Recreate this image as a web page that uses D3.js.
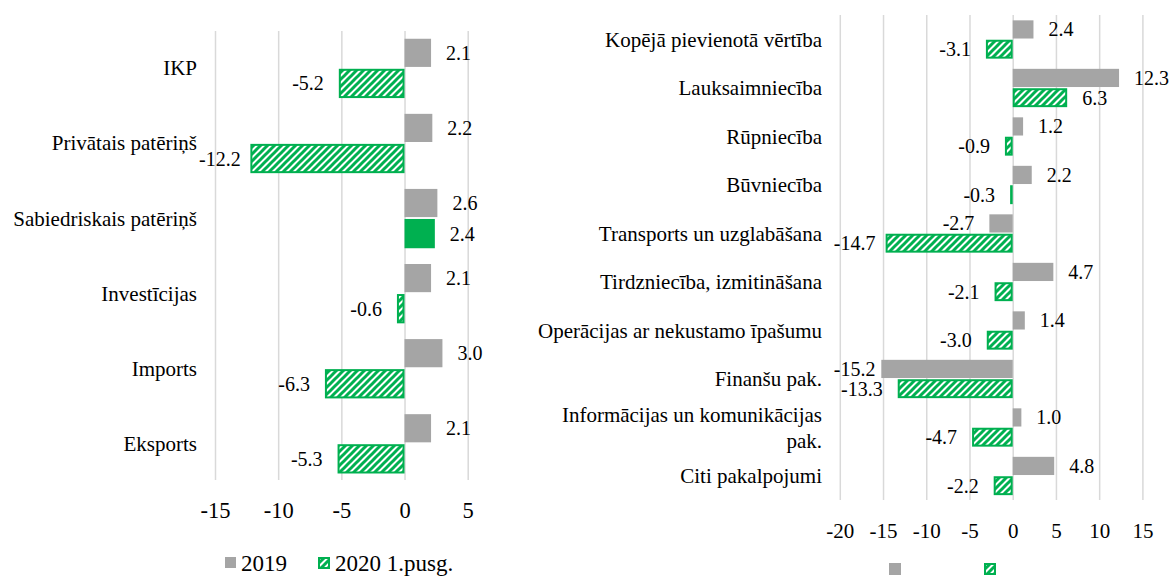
<!DOCTYPE html>
<html>
<head>
<meta charset="utf-8">
<script src="https://cdn.jsdelivr.net/npm/d3@7"></script>
<style>
  html, body { margin: 0; padding: 0; background: #fff; }
  svg text { font-family: "Liberation Serif", "Times New Roman", serif !important; fill: #000; }
</style>
</head>
<body>
<svg id="chart" width="1171" height="577" font-family="Liberation Serif, serif"></svg>
<script>
// ---------- data ----------
const seriesNames = ["2019", "2020 1.pusg."];

const leftCategories = ["IKP", "Privātais patēriņš", "Sabiedriskais patēriņš", "Investīcijas", "Imports", "Eksports"];
const left2019 = [2.1, 2.2, 2.6, 2.1, 3.0, 2.1];
const left2020 = [-5.2, -12.2, 2.4, -0.6, -6.3, -5.3];
const leftTicks = [-15, -10, -5, 0, 5];

const rightCategories = ["Kopējā pievienotā vērtība", "Lauksaimniecība", "Rūpniecība", "Būvniecība",
  "Transports un uzglabāšana", "Tirdzniecība, izmitināšana", "Operācijas ar nekustamo īpašumu",
  "Finanšu pak.", "Informācijas un komunikācijas pak.", "Citi pakalpojumi"];
const right2019 = [2.4, 12.3, 1.2, 2.2, -2.7, 4.7, 1.4, -15.2, 1.0, 4.8];
const right2020 = [-3.1, 6.3, -0.9, -0.3, -14.7, -2.1, -3.0, -13.3, -4.7, -2.2];
const rightTicks = [-20, -15, -10, -5, 0, 5, 10, 15];

// ---------- styling ----------
const FONT = "'Liberation Serif', 'Times New Roman', serif";
const GRAY = "#A5A5A5";
const GREEN = "#00B050";
const GRID = "#D9D9D9";
const solidGreenCategories = new Set(["Sabiedriskais patēriņš"]);

const svg = d3.select("#chart");
const defs = svg.append("defs");
const pat = defs.append("pattern")
  .attr("id", "hatch").attr("patternUnits", "userSpaceOnUse")
  .attr("width", 7).attr("height", 7);
pat.append("rect").attr("width", 7).attr("height", 7).attr("fill", "#fff");
pat.append("path")
  .attr("d", "M-1.75,1.75 L1.75,-1.75 M0,7 L7,0 M5.25,8.75 L8.75,5.25")
  .attr("stroke", GREEN).attr("stroke-width", 3).attr("stroke-linecap", "square");

function txt(sel, size) {
  return sel.attr("font-family", FONT).style("font-family", FONT).style("font-size", size + "px").attr("fill", "#000");
}

function drawPanel(cfg) {
  const g = svg.append("g");
  const x = d3.scaleLinear().domain(cfg.domain).range(cfg.xRange);
  const y = d3.scaleBand().domain(cfg.categories).range(cfg.yRange).paddingInner(0).paddingOuter(0);
  const bw = y.bandwidth();

  // grid
  const grid = g.append("g").attr("transform", `translate(0,${cfg.gridBottom})`)
    .call(d3.axisBottom(x).tickValues(cfg.ticks).tickSize(-(cfg.gridBottom - cfg.gridTop)).tickFormat(""));
  grid.select(".domain").remove();
  grid.selectAll(".tick line").attr("stroke", GRID).attr("stroke-width", 1.5);

  // tick labels
  const ax = g.append("g").attr("transform", `translate(0,${cfg.tickY})`)
    .call(d3.axisBottom(x).tickValues(cfg.ticks).tickSize(0).tickPadding(0).tickFormat(d => String(d)));
  ax.attr("font-family", FONT);
  ax.select(".domain").remove();
  txt(ax.selectAll("text").attr("y", 0).attr("dy", "0.35em"), cfg.tickFont);

  // category labels (with wrapping)
  cfg.categories.forEach((c, i) => {
    const cy = y(c) + bw / 2;
    const t = txt(g.append("text").attr("text-anchor", "end").attr("x", cfg.labelRight), cfg.catFont);
    const words = c.split(" ");
    let lines = [];
    let cur = [];
    const probe = txt(g.append("text"), cfg.catFont);
    words.forEach(w => {
      const test = cur.concat([w]).join(" ");
      probe.text(test);
      if (probe.node().getComputedTextLength() > cfg.wrapWidth && cur.length) {
        lines.push(cur.join(" "));
        cur = [w];
      } else cur.push(w);
    });
    lines.push(cur.join(" "));
    probe.remove();
    const lh = cfg.catFont * 1.24;
    lines.forEach((ln, k) => {
      t.append("tspan").attr("x", cfg.labelRight)
        .attr("y", cy + (k - (lines.length - 1) / 2) * lh)
        .attr("dy", "0.35em").text(ln);
    });
  });

  // bars
  const series = [
    { vals: cfg.s2019, off: 0.11, h: 0.375 },
    { vals: cfg.s2020, off: 0.51, h: 0.39 }
  ];
  series.forEach((s, si) => {
    cfg.categories.forEach((c, i) => {
      const v = s.vals[i];
      const x0 = x(Math.min(0, v)), x1 = x(Math.max(0, v));
      const by = y(c) + s.off * bw, bh = s.h * bw;
      if (si === 0) {
        g.append("rect").attr("x", x0).attr("y", by).attr("width", x1 - x0).attr("height", bh).attr("fill", GRAY);
      } else if (cfg.solid.has(c)) {
        g.append("rect").attr("x", x0).attr("y", by).attr("width", x1 - x0).attr("height", bh).attr("fill", GREEN);
      } else {
        g.append("rect").attr("x", x0 + 1).attr("y", by + 1)
          .attr("width", Math.max(0, x1 - x0 - 2)).attr("height", bh - 2)
          .attr("fill", "url(#hatch)").attr("stroke", GREEN).attr("stroke-width", 2);
      }
      // value label
      const lbl = txt(g.append("text"), cfg.valFont)
        .attr("y", by + bh / 2).attr("dy", "0.35em").text(v.toFixed(1));
      const w = lbl.node().getComputedTextLength();
      if (v >= 0) {
        lbl.attr("text-anchor", "start").attr("x", x(v) + cfg.gap);
      } else {
        let right = x(v) - cfg.gap;
        const minLeft = x(cfg.domain[0]) - cfg.clamp;
        if (right - w < minLeft) right = minLeft + w;
        lbl.attr("text-anchor", "end").attr("x", right);
      }
    });
  });

  // legend
  const lg = g.append("g");
  cfg.legend.forEach((L, i) => {
    if (i === 0) {
      lg.append("rect").attr("x", L.x).attr("y", L.y).attr("width", L.s).attr("height", L.s).attr("fill", GRAY);
    } else {
      lg.append("rect").attr("x", L.x + 1).attr("y", L.y + 1).attr("width", L.s - 2).attr("height", L.s - 2)
        .attr("fill", "url(#hatch)").attr("stroke", GREEN).attr("stroke-width", 2);
    }
    if (cfg.legendText) {
      txt(lg.append("text"), cfg.legFont).attr("x", L.x + L.s + 5).attr("y", L.y + L.s / 2).attr("dy", "0.35em")
        .text(seriesNames[i]);
    }
  });
}

drawPanel({
  categories: leftCategories, s2019: left2019, s2020: left2020, ticks: leftTicks,
  domain: [-15, 5], xRange: [215, 467.7], yRange: [30.5, 481],
  gridTop: 31, gridBottom: 480, tickY: 510, labelRight: 197,
  catFont: 21, valFont: 20, tickFont: 22.5, legFont: 23, wrapWidth: 400,
  gap: 15, clamp: 16, solid: solidGreenCategories,
  legend: [{ x: 225, y: 557, s: 11 }, { x: 318, y: 557, s: 12 }], legendText: true
});

drawPanel({
  categories: rightCategories, s2019: right2019, s2020: right2020, ticks: rightTicks,
  domain: [-20, 15], xRange: [839.8, 1142.4], yRange: [15, 500],
  gridTop: 15, gridBottom: 500, tickY: 531, labelRight: 822,
  catFont: 21, valFont: 20, tickFont: 21, legFont: 21, wrapWidth: 295,
  gap: 15, clamp: 6, solid: new Set(),
  legend: [{ x: 889, y: 563, s: 12 }, { x: 984, y: 563, s: 12 }], legendText: false
});
</script>
</body>
</html>
